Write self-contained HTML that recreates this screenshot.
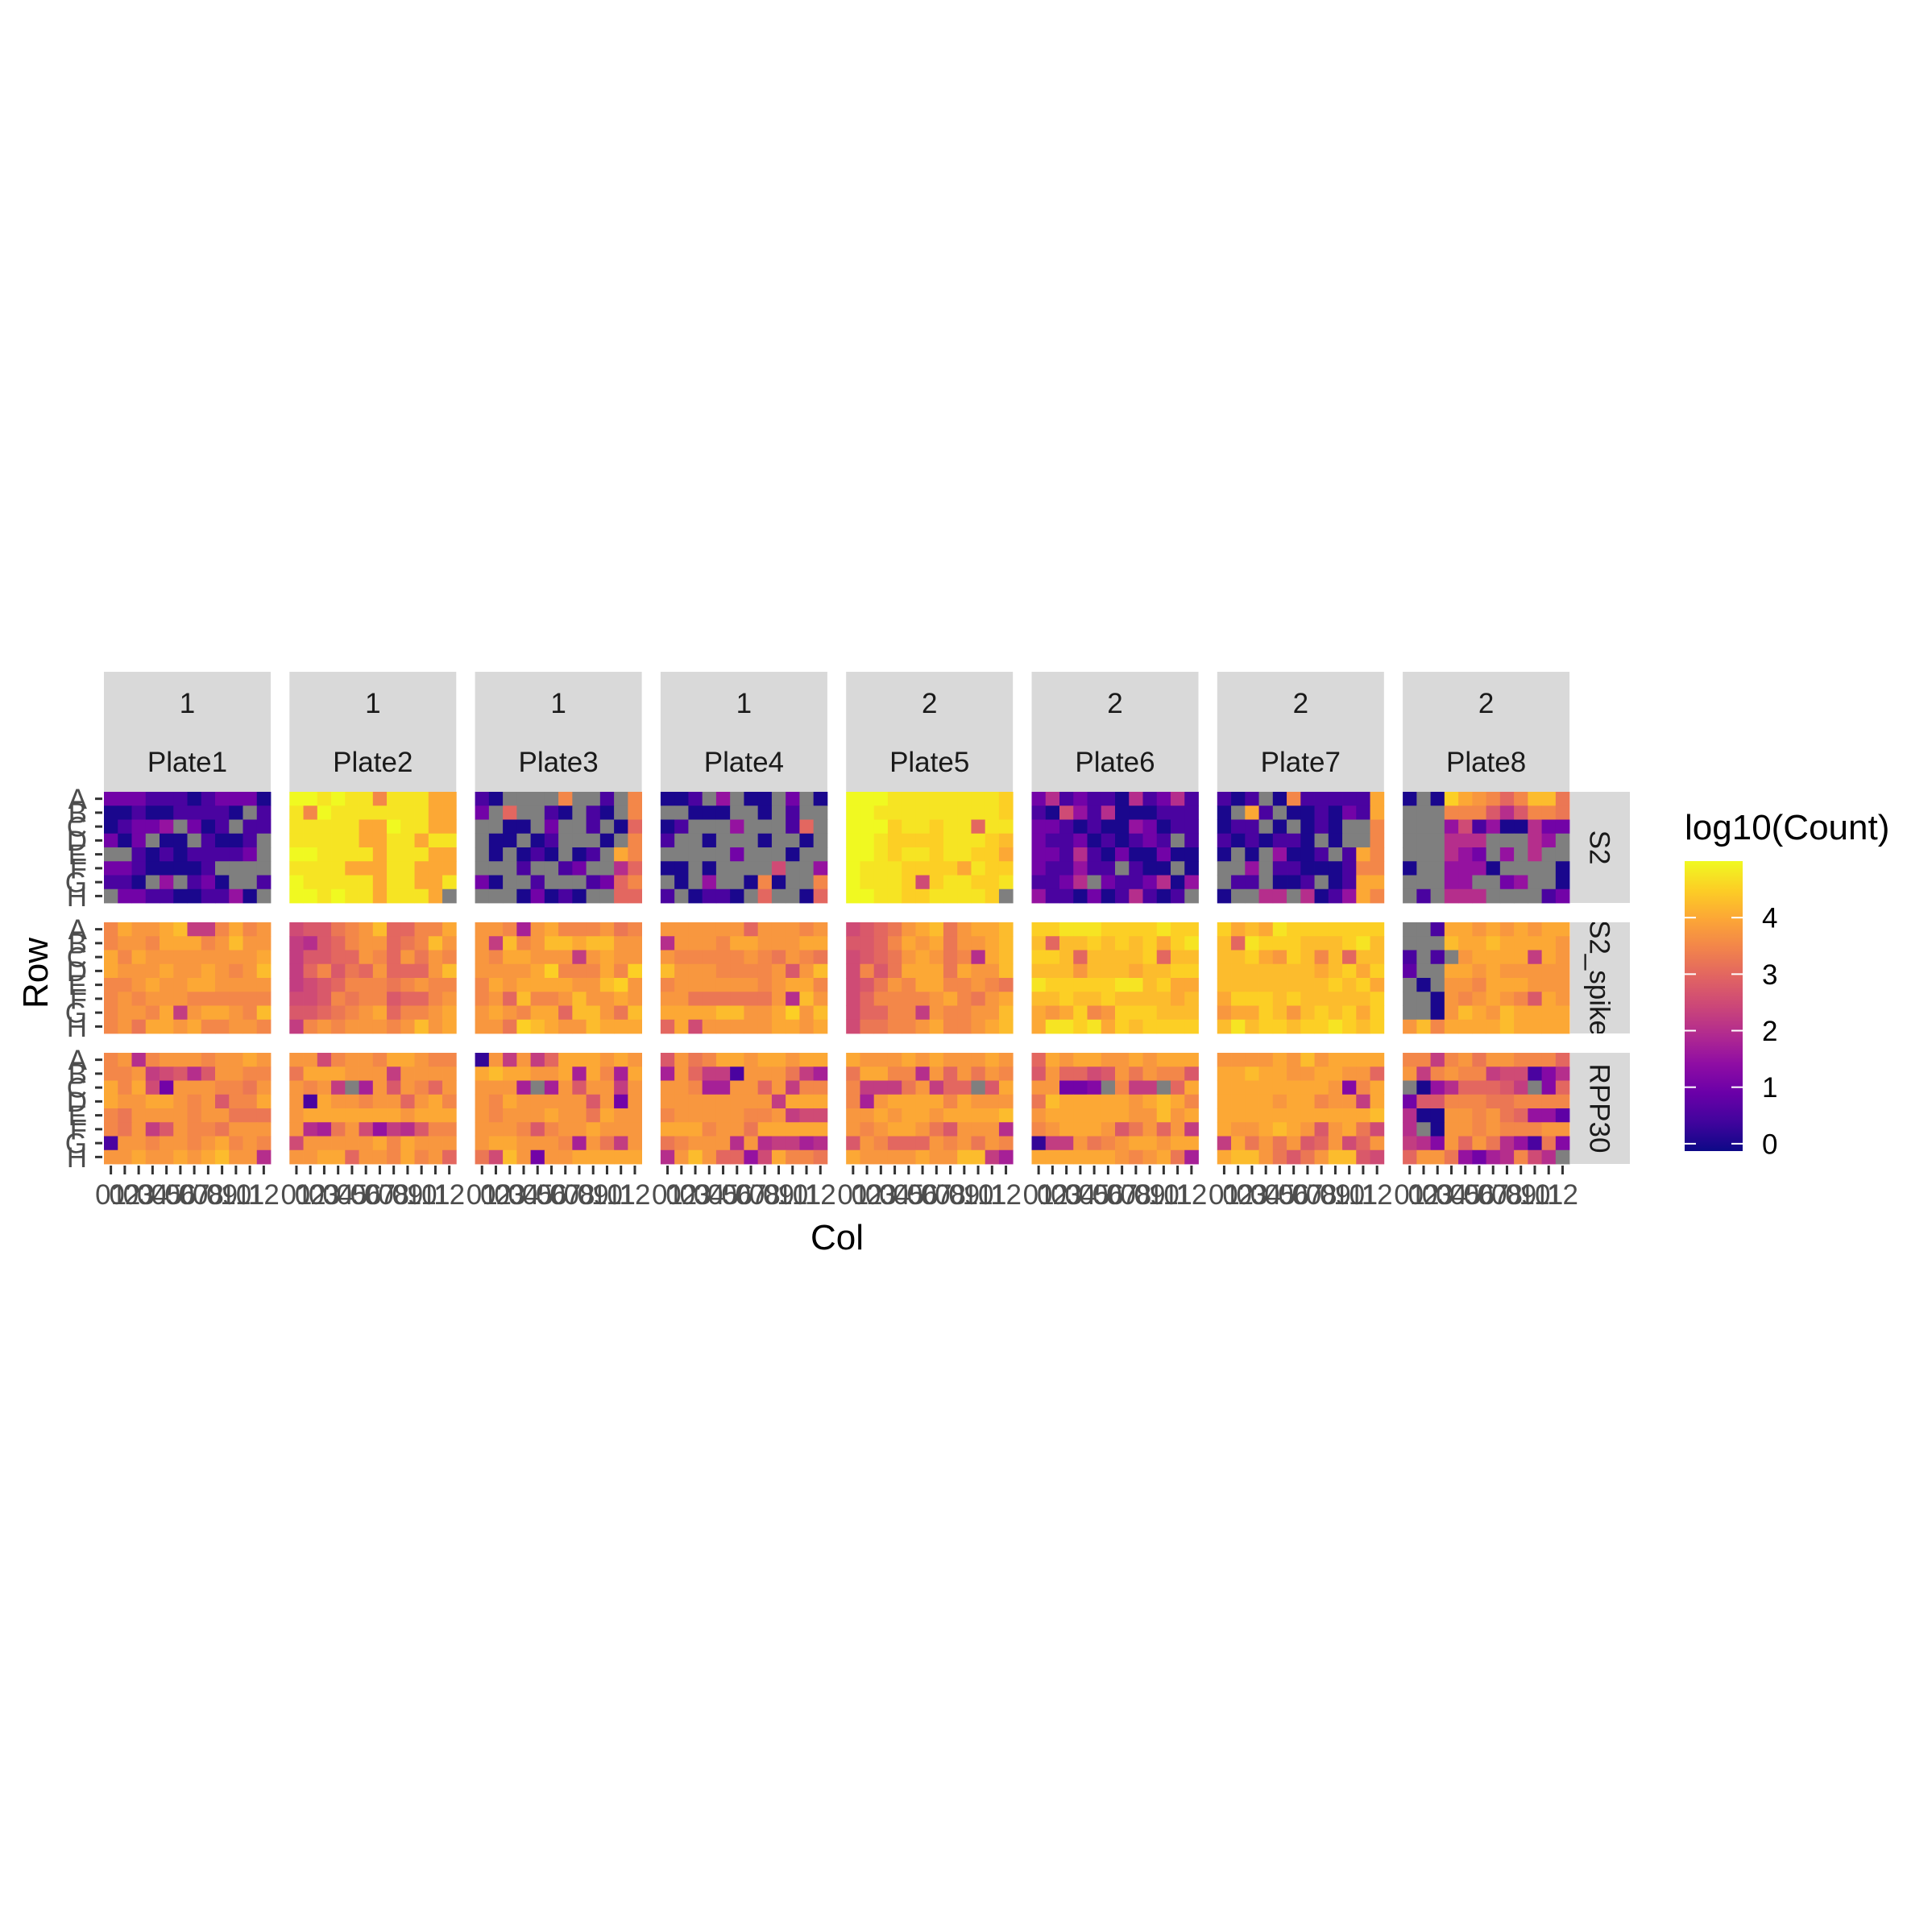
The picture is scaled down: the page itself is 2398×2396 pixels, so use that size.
<!DOCTYPE html>
<html><head><meta charset="utf-8"><title>Plate heatmap</title>
<style>html,body{margin:0;padding:0;background:#fff;}svg{display:block;font-family:"Liberation Sans",Arial,sans-serif;}</style>
</head><body>
<svg id="chart" width="2398" height="2396" viewBox="0 0 2398 2396" xmlns="http://www.w3.org/2000/svg">
<rect width="2398" height="2396" fill="#ffffff"/>
<g id="layer"></g>
</svg>
<script>
const plates = ["Plate1","Plate2","Plate3","Plate4","Plate5","Plate6","Plate7","Plate8"];
const plateGroups = ["1","1","1","1","2","2","2","2"];
const genes = ["S2","S2_spike","RPP30"];
const rowLabels = ["A","B","C","D","E","F","G","H"];
const colLabels = ["01","02","03","04","05","06","07","08","09","10","11","12"];
const legendTicks = [0,1,2,3,4];
// code: 'n' = NA, otherwise parseInt(ch,36)*0.25 = log10(Count)
const s2Data = [
["444222024440","0020022220n2","02446n402n22","404n00n2002n","nn202022224n","44200002nnnn","220n6n240nn2","n4422002260n"],
["kkjkjjejjjgg","jekjjjjjjjgg","jjjjjggkjjgg","jjjjjggjjgjj","kkjjjjgjjjgg","jjjjgggjjggg","kjjjjjgjjggj","kkjkjjgjjjgn"],
["20nnnnenn2ne","4ncnn20n20ne","nn00n4nn2n0c","n00n02nnn0ne","n0n020n02nge","nnn2nn24nn8c","40nn2nnn24ce","nnn04020nncc"],
["002n6n00n4n0","nn000nn0n2nn","02nnn6nnn2cn","2nn0nnn0nn0n","nnnnn4nnn0nn","00n0nnnnann6","n0n6nn0e0nne","2n0220ncnn0c"],
["kkkjjjjjjjji","kkjjjjjjjjji","kkkijjijjcjj","kkjiiiijjjih","kkjijjijjiig","kjjjiiiigjii","kjjjiaijjiij","kkjjiijjjjin"],
["482422082482","20a628000222","442020064022","4224020242n2","442820400400","422622n200n0","2248n4224806","62204028202n"],
["202n0e22222g","0ng2n002042g","022n0n020nne","2020220n0nne","0n0n6002n2ge","nn6n220002ee","n22n002n02gg","0nn88n8026ge"],
["0n0igfecehhd","nnneeeb8beed","nnn6a2600844","nnn888nnn86n","nnn864n6n8nn","0nn6660nnnn0","nnn66nn46nn0","n2n888nnnn24"]
];
const spikeData = [
["egffgh99egef","effegggefhff","gegffffffffg","gfffgffgfefh","eefgffggffff","efefffeeeeee","effeg9fggfeh","efdggfgeeffe"],
["abbdefhcceeg","98bceffcdehf","9bbccfecfdfe","9cebdcfcccfh","9abceeedefee","aabedeebccef","bbcdefgceefg","9efefffefhfg"],
["ffe7fgeeefde","f9hefhhghhff","feggfff9fgff","ffffgieeegei","egfggggffhif","efcheefhffgf","fgfeggchhfdh","ffdihgffhggg"],
["ffffffcfffef","8fffeggfffgg","feeeeefedfed","hfffeeeefbfh","effffffefgge","ffddddddf8hf","gggghhffgifh","cgafffffggfg"],
["abcdfghdfggh","bbcegfgdffgh","abcdfgfde8gh","aebdgggdgffh","abdfeggeefed","aceeeefgedfg","accee9feeffh","addeefgeefgh"],
["iijjjiiiijii","hchhihihigij","iihchhhhichh","hhhfhhhghhii","jiiiiijjhigg","hhihhihhhhgh","gfgiefiiihhh","gjjijgihiiii"],
["ighgjiiiiiii","hcjiiihhhijh","hhigfihehchh","hhhhhhhghigi","hhhhhhhhihig","giiihihhhhhi","fggihfhihigi","hjhiihiijihi"],
["nn2ggfgfgfgg","nnnhgghggggf","2n2nfgggg9gf","3nnggfgfffff","n0nffegggfff","nn0fefgfebgf","nn0fhgfhgggg","fhegggghgggg"]
];
const rppData = [
["ef8efffeffgf","eef9ab8bffee","gega4fffeedf","gffggfefbeeg","edffffeffddd","edf9bfeedfff","2ffeffefgefe","ffgffgfghff8"],
["ffaeffeggfee","dgggfff9ffff","fef9n7fbfecf","f2gffeffcfge","fgggggggfggg","f87dfa698bee","afffffgegfff","ffggcffegefc"],
["1f9f9cgggfgf","ghggffg7ge7g","fff7n7fbff9f","fegfffffbf4f","fefffgffdgff","fffebeffgfff","fggfffe7fd9f","dahf4ffggggg"],
["bfdeggfggfgg","7fc992fffd97","ffe77ffcf9ee","ffffffff9ggg","efffffeef9aa","gggeffdggggg","defff8f89978","8fhfcc6ageed"],
["gfffgfgfffgf","dggee8fcfdfe","e999df9ccnbg","e7fggggegfff","ffgfggfggggh","fefggfdbfff8","bfecccfefdfe","gffffgffhh97"],
["cgfggffgfggg","bfccabfdfeeb","ff445ne99ncg","dhgggggfghge","fggggggffhfg","efgggfbdfcf9","199fdefggfgg","ggggggfefgd7"],
["ffffgfhfgggg","gghggffggffc","ggggggggf5eg","ggggfggeff9g","gggggggggggh","gffghgfbfgda","9gdfdfbcfacf","ghhfdbdfhhba"],
["ee9efdffeeec","f9efee9aa258","n068cccb9n5c","4bbeeeddeeee","800ffefdc663","8n0ffefeeeff","985fcfd862d5","cffd6478ea8n"]
];
const geneData = [s2Data, spikeData, rppData];

const NS = "http://www.w3.org/2000/svg";
const layer = document.getElementById("layer");
const plasma = ["#0d0887","#41049d","#6a00a8","#8f0da4","#b12a90","#cc4778","#e16462","#f2844b","#fca636","#fcce25","#f0f921"];
const vMin = -0.13, vMax = 5.0;
function hex2rgb(h){return [parseInt(h.substr(1,2),16),parseInt(h.substr(3,2),16),parseInt(h.substr(5,2),16)];}
function colorOf(v){
  let t = (v - vMin)/(vMax - vMin); t = Math.max(0, Math.min(1, t));
  const p = t*10, i = Math.min(9, Math.floor(p)), f = p - i;
  const a = hex2rgb(plasma[i]), b = hex2rgb(plasma[i+1]);
  return "rgb(" + a.map((c,k)=>Math.round(c+(b[k]-c)*f)).join(",") + ")";
}
function decode(ch){ return ch === "n" ? null : parseInt(ch,36)*0.25; }
function mk(tag, attrs, parent){
  const e = document.createElementNS(NS, tag);
  for (const k in attrs) e.setAttribute(k, attrs[k]);
  (parent||layer).appendChild(e); return e;
}
const panelX0 = 129, panelStep = 230.3, panelW = 207;
const panelY = [983, 1145, 1307], panelH = 138;
const cellW = panelW/12, cellH = panelH/8;
function xPos(plateIdx, col){ return panelX0 + plateIdx*panelStep + col*cellW; }
function yPos(geneIdx, row){ return panelY[geneIdx] + row*cellH; }

const defs = mk("defs", {});

plates.forEach((p, i) => {
  const x = panelX0 + i*panelStep;
  const r = mk("rect", {x:x, y:834, width:panelW, height:149, fill:"#d9d9d9"});
  
  
  const t1 = mk("text", {x:x+panelW/2, y:885, "text-anchor":"middle", "font-size":35, fill:"#1a1a1a"});
  t1.textContent = plateGroups[i];
  
  
  const t2 = mk("text", {x:x+panelW/2, y:958, "text-anchor":"middle", "font-size":35, fill:"#1a1a1a"});
  t2.textContent = p;
  
  
});

genes.forEach((g, gi) => {
  const y = panelY[gi];
  const r = mk("rect", {x:1949, y:y, width:74, height:panelH, fill:"#d9d9d9"});
  
  
  const cp = mk("clipPath", {id:"clip"+gi}, defs);
  mk("rect", {x:1949, y:y, width:74, height:panelH}, cp);
  const grp = mk("g", {"clip-path":"url(#clip"+gi+")"});
  const cy = y + panelH/2;
  const t = mk("text", {x:1986, y:cy+12.5, "text-anchor":"middle", "font-size":35, fill:"#1a1a1a",
    transform:"rotate(90,1986," + cy + ")"}, grp);
  t.textContent = g;
  
  
});

genes.forEach((g, gi) => {
  plates.forEach((p, pi) => {
    const bg = mk("rect", {x:xPos(pi,0), y:yPos(gi,0), width:panelW, height:panelH, fill:"#ebebeb"});
    
    
    const rows = geneData[gi][pi];
    rows.forEach((rowStr, ri) => {
      for (let ci = 0; ci < 12; ci++) {
        const v = decode(rowStr[ci] || "n");
        const c = mk("rect", {x:xPos(pi,ci), y:yPos(gi,ri), width:cellW+0.4, height:cellH+0.4,
          fill: v === null ? "#7f7f7f" : colorOf(v)});
        
        
      }
    });
  });
  rowLabels.forEach((lab, ri) => {
    const cy = yPos(gi, ri) + cellH/2;
    const tk = mk("line", {x1:118, x2:127, y1:cy, y2:cy, stroke:"#333333", "stroke-width":3});
    
    
    const t = mk("text", {x:108, y:cy+12.5, "text-anchor":"end", "font-size":35, fill:"#4d4d4d"});
    t.textContent = lab;
    
    
  });
});

plates.forEach((p, pi) => {
  colLabels.forEach((lab, ci) => {
    const cx = xPos(pi, ci) + cellW/2;
    const tk = mk("line", {x1:cx, x2:cx, y1:1447, y2:1458, stroke:"#333333", "stroke-width":3});
    
    
    const t = mk("text", {x:cx, y:1495, "text-anchor":"middle", "font-size":35, fill:"#4d4d4d"});
    t.textContent = lab;
    
    
  });
});

const xt = mk("text", {x:1039, y:1551, "text-anchor":"middle", "font-size":44, fill:"#000"});
xt.textContent = "Col";


const yt = mk("text", {x:59, y:1208, "text-anchor":"middle", "font-size":44, fill:"#000", transform:"rotate(-90,59,1208)"});
yt.textContent = "Row";



const lt = mk("text", {x:2091, y:1042, "font-size":44, fill:"#000"});
lt.textContent = "log10(Count)";


const barTop = 1069, barBot = 1429, barX = 2091, barW = 72;
function legendY(v){ return barBot - (v - vMin)/(vMax - vMin)*(barBot - barTop); }
const grad = mk("linearGradient", {id:"plasmaGrad", x1:0, y1:1, x2:0, y2:0}, defs);
plasma.forEach((c, i) => { mk("stop", {offset:(i*10)+"%", "stop-color":c}, grad); });
const bar = mk("rect", {x:barX, y:barTop, width:barW, height:barBot-barTop, fill:"url(#plasmaGrad)"});


legendTicks.forEach(v => {
  const y = legendY(v);
  const a = mk("line", {x1:barX, x2:barX+14, y1:y, y2:y, stroke:"#ffffff", "stroke-width":2});
  
  
  const b = mk("line", {x1:barX+barW-14, x2:barX+barW, y1:y, y2:y, stroke:"#ffffff", "stroke-width":2});
  
  
  const t = mk("text", {x:2187, y:y+12.5, "font-size":35, fill:"#000"});
  t.textContent = String(v);
  
  
});
</script>
</body></html>
